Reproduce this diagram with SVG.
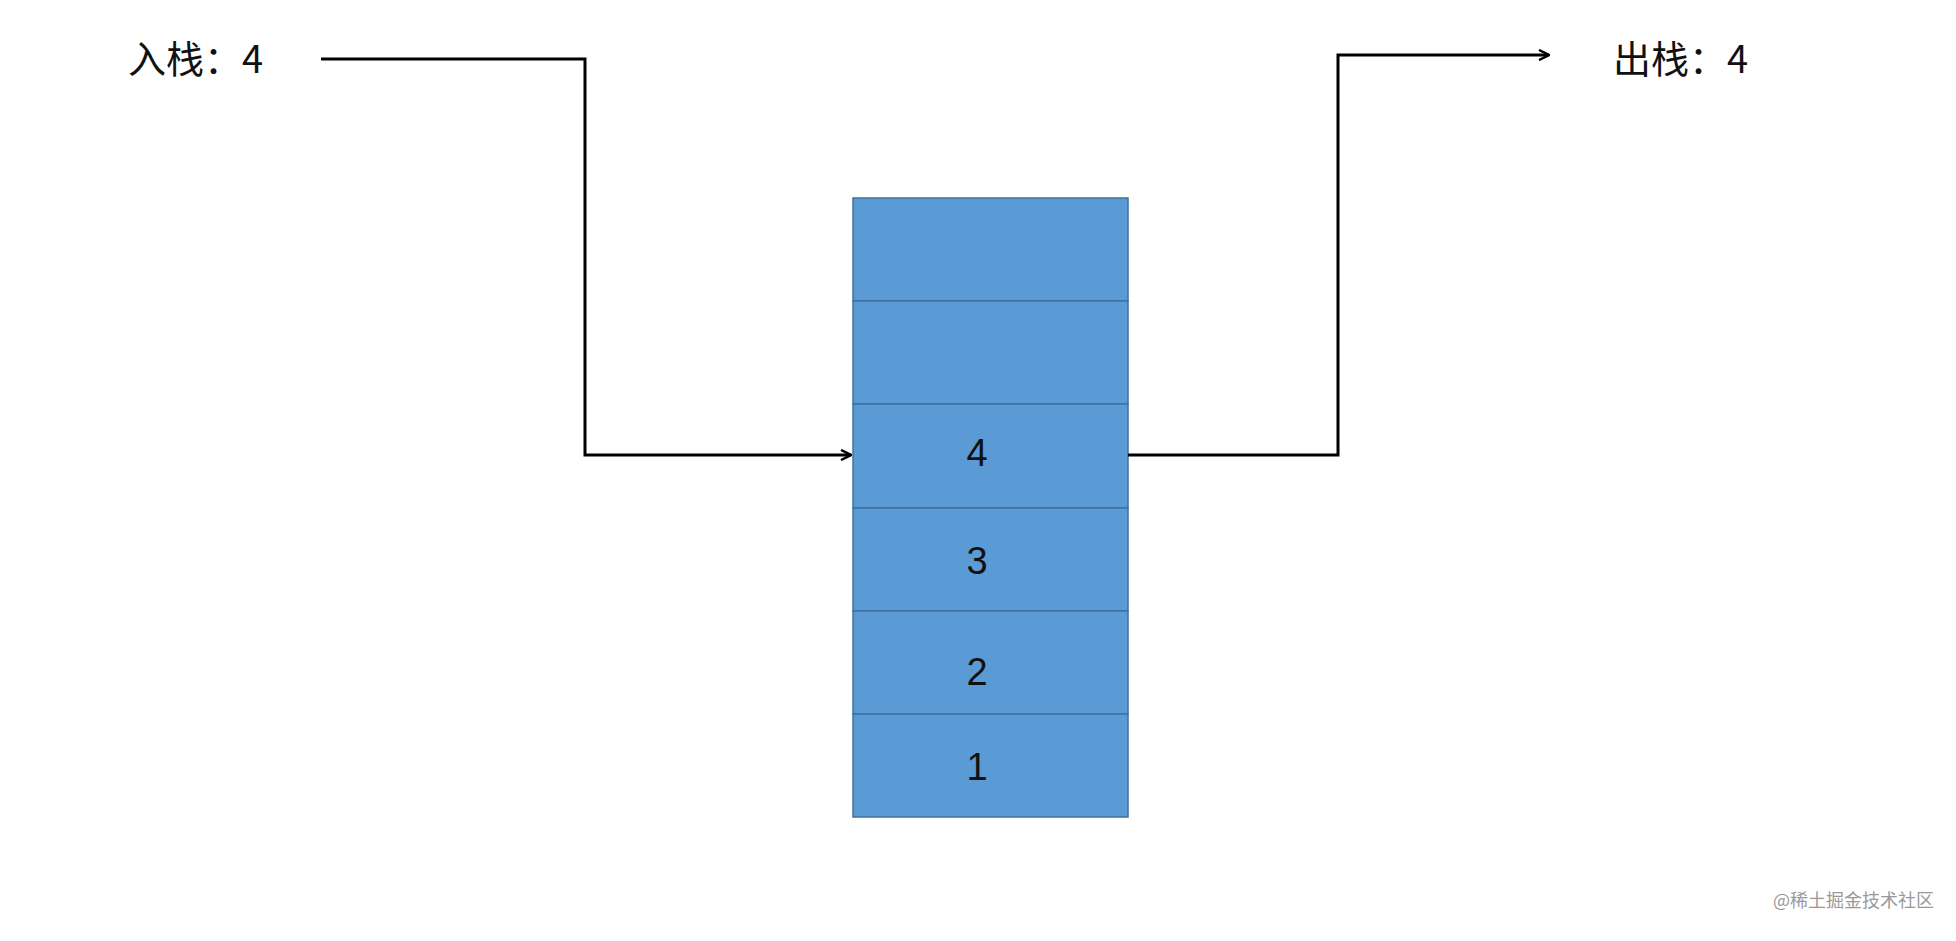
<svg xmlns="http://www.w3.org/2000/svg" width="1956" height="941" viewBox="0 0 1956 941">
<style>
.cell{fill:#5b9bd5;stroke:#41719c;stroke-width:1.5}
.num{font-family:"Liberation Sans","Noto Sans CJK SC",sans-serif;font-size:38px;fill:#111;text-anchor:middle}
.lbl{font-family:"Noto Sans CJK SC",sans-serif;font-size:38px;fill:#111}
.wire{fill:none;stroke:#000;stroke-width:3}
</style>
<defs><marker id="arr" viewBox="0 0 12 12" refX="11" refY="6" markerWidth="12" markerHeight="12" markerUnits="userSpaceOnUse" orient="auto"><path d="M1,1 L11,6 L1,11" fill="none" stroke="#000" stroke-width="2.5"/></marker></defs>
<rect width="1956" height="941" fill="#fff"/>
<g id="stack">
<rect class="cell" x="853" y="198" width="275" height="103"/>
<rect class="cell" x="853" y="301" width="275" height="103"/>
<rect class="cell" x="853" y="404" width="275" height="104"/>
<rect class="cell" x="853" y="508" width="275" height="103"/>
<rect class="cell" x="853" y="611" width="275" height="103"/>
<rect class="cell" x="853" y="714" width="275" height="103"/>
<text class="num" x="977" y="466">4</text>
<text class="num" x="977" y="574">3</text>
<text class="num" x="977" y="685">2</text>
<text class="num" x="977" y="780">1</text>
</g>
<g id="in-label"><text class="lbl" x="128" y="73">入栈：4</text></g>
<g id="out-label"><text class="lbl" x="1613" y="73">出栈：4</text></g>
<g id="connectors">
<polyline class="wire" points="321,59 585,59 585,455 851,455" marker-end="url(#arr)"/>
<polyline class="wire" points="1128,455 1338,455 1338,55 1549,55" marker-end="url(#arr)"/>
</g>
<text x="1934" y="907" text-anchor="end" font-family="Noto Sans CJK SC,sans-serif" font-size="18" fill="#999">@稀土掘金技术社区</text>
</svg>
